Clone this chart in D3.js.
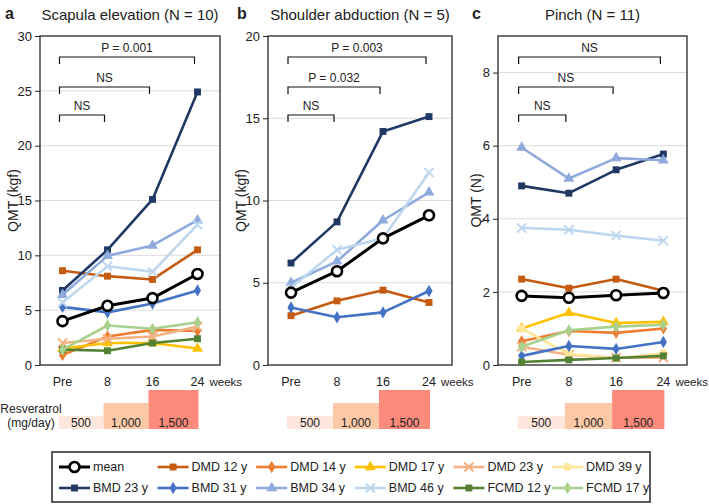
<!DOCTYPE html>
<html>
<head>
<meta charset="utf-8">
<script src="https://cdn.jsdelivr.net/npm/d3@7"></script>
<style>
  body { margin: 0; background: #fff; }
  text { font-family: "Liberation Sans", Arial, sans-serif; fill: #222; }
</style>
</head>
<body>
<svg id="chart" width="709" height="504"></svg>
<script>
// ---- data ----
const weeks = ["Pre", "8", "16", "24"];
const subjects = ["mean", "DMD 12 y", "DMD 14 y", "DMD 17 y", "DMD 23 y", "DMD 39 y",
                  "BMD 23 y", "BMD 31 y", "BMD 34 y", "BMD 46 y", "FCMD 12 y", "FCMD 17 y"];
const subjectColors = ["#000000", "#c55a11", "#ed7d31", "#ffc000", "#f4b183", "#ffe699",
                       "#203864", "#4472c4", "#8faadc", "#bdd7ee", "#548235", "#a9d18e"];
const subjectShapes = ["circle", "square", "diamond", "triangle", "x", "circle",
                       "square", "diamond", "triangle", "x", "square", "diamond"];

// values at Pre, 8, 16, 24 weeks
const scapulaValues = [
  ["DMD 12 y", [8.6, 8.1, 7.8, 10.5]],
  ["DMD 14 y", [0.9, 2.6, 3.2, 3.1]],
  ["DMD 17 y", [1.5, 2.0, 2.0, 1.5]],
  ["DMD 23 y", [2.0, 2.4, 2.6, 3.5]],
  ["BMD 23 y", [6.8, 10.5, 15.1, 24.9]],
  ["BMD 31 y", [5.3, 4.8, 5.6, 6.8]],
  ["BMD 34 y", [6.4, 9.95, 10.9, 13.2]],
  ["BMD 46 y", [5.7, 9.0, 8.5, 12.8]],
  ["FCMD 12 y", [1.4, 1.3, 2.0, 2.4]],
  ["FCMD 17 y", [1.4, 3.6, 3.3, 3.9]],
  ["mean", [4.0, 5.4, 6.1, 8.3]]
];
const shoulderValues = [
  ["DMD 12 y", [3.0, 3.9, 4.55, 3.8]],
  ["BMD 23 y", [6.2, 8.7, 14.2, 15.1]],
  ["BMD 31 y", [3.5, 2.9, 3.2, 4.5]],
  ["BMD 34 y", [5.0, 6.3, 8.8, 10.5]],
  ["BMD 46 y", [4.7, 7.0, 7.7, 11.7]],
  ["mean", [4.4, 5.7, 7.7, 9.1]]
];
const pinchValues = [
  ["DMD 12 y", [2.35, 2.1, 2.35, 2.03]],
  ["DMD 14 y", [0.65, 0.93, 0.88, 1.0]],
  ["DMD 17 y", [1.0, 1.43, 1.15, 1.18]],
  ["DMD 23 y", [0.5, 0.28, 0.2, 0.2]],
  ["DMD 39 y", [1.0, 0.3, 0.18, 0.32]],
  ["BMD 23 y", [4.9, 4.7, 5.34, 5.77]],
  ["BMD 31 y", [0.25, 0.52, 0.44, 0.63]],
  ["BMD 34 y", [5.95, 5.1, 5.66, 5.6]],
  ["BMD 46 y", [3.75, 3.7, 3.54, 3.4]],
  ["FCMD 12 y", [0.08, 0.14, 0.19, 0.25]],
  ["FCMD 17 y", [0.5, 0.95, 1.05, 1.1]],
  ["mean", [1.89, 1.84, 1.91, 1.97]]
];

const scapulaTests = ["NS", "NS", "P = 0.001"];
const shoulderTests = ["NS", "P = 0.032", "P = 0.003"];
const pinchTests = ["NS", "NS", "NS"];

const doses = [500, 1000, 1500];
const doseLabels = ["500", "1,000", "1,500"];
const doseColors = ["#fde6dc", "#fcc9a7", "#fb8a7b"];

// ---- layout ----
const svg = d3.select("#chart");
const plotTop = 36, plotBottom = 365;

const panels = [
  { letter: "a", letterX: 5, title: "Scapula elevation (N = 10)", ylabel: "QMT (kgf)", left: 40, right: 220,
    yMax: 30, ticks: [0, 5, 10, 15, 20, 25, 30], rows: scapulaValues, tests: scapulaTests, labelX: 13 },
  { letter: "b", letterX: 237, title: "Shoulder abduction (N = 5)", ylabel: "QMT (kgf)", left: 268, right: 452,
    yMax: 20, ticks: [0, 5, 10, 15, 20], rows: shoulderValues, tests: shoulderTests, labelX: 241 },
  { letter: "c", letterX: 472, title: "Pinch (N = 11)", ylabel: "QMT (N)", left: 498, right: 687,
    yMax: 9, ticks: [0, 2, 4, 6, 8], rows: pinchValues, tests: pinchTests, labelX: 476 }
];

const colorOf = d3.scaleOrdinal(subjects, subjectColors);
const shapeOf = d3.scaleOrdinal(subjects, subjectShapes);
const symbolTypes = { square: d3.symbolSquare, diamond: d3.symbolDiamond, triangle: d3.symbolTriangle, x: d3.symbolX };
const symbolSizes = { square: 48, diamond: 44, triangle: 52, x: 56 };

function drawMarker(sel, name) {
  const shape = shapeOf(name);
  const c = colorOf(name);
  if (name === "mean") {
    sel.append("circle").attr("r", 5).attr("fill", "#fff").attr("stroke", "#000").attr("stroke-width", 2.6);
  } else if (shape === "circle") {
    sel.append("circle").attr("r", 4).attr("fill", c);
  } else if (shape === "x") {
    sel.append("path").attr("d", d3.symbol(symbolTypes.x, symbolSizes.x)())
      .attr("fill", "none").attr("stroke", c).attr("stroke-width", 2);
  } else {
    sel.append("path").attr("d", d3.symbol(symbolTypes[shape], symbolSizes[shape])())
      .attr("fill", c);
  }
}

panels.forEach(p => {
  const g = svg.append("g");
  const x = d3.scalePoint().domain(weeks).range([p.left, p.right]).padding(0.5);
  const y = d3.scaleLinear().domain([0, p.yMax]).range([plotBottom, plotTop]);

  // gridlines
  g.selectAll(".grid").data(p.ticks.filter(t => t > 0 && t < p.yMax)).enter()
    .append("line")
    .attr("x1", p.left).attr("x2", p.right)
    .attr("y1", d => y(d)).attr("y2", d => y(d))
    .attr("stroke", "#dcdcdc").attr("stroke-width", 1);

  // frame
  g.append("rect").attr("x", p.left).attr("y", plotTop)
    .attr("width", p.right - p.left).attr("height", plotBottom - plotTop)
    .attr("fill", "none").attr("stroke", "#262626").attr("stroke-width", 1.3);

  // y axis
  const yAxis = g.append("g").attr("transform", `translate(${p.left},0)`)
    .call(d3.axisLeft(y).tickValues(p.ticks).tickSize(5).tickPadding(3));
  yAxis.select(".domain").remove();
  yAxis.selectAll("line").attr("stroke", "#262626");
  yAxis.selectAll("text").style("font-size", "13px").attr("fill", "#222")
    .style("font-family", "'Liberation Sans', Arial, sans-serif");

  // x labels
  g.selectAll(".xl").data(weeks).enter().append("text")
    .attr("x", d => x(d)).attr("y", 386)
    .attr("text-anchor", "middle").style("font-size", "12.5px").text(d => d);
  g.append("text").attr("x", x("24") + 12).attr("y", 386)
    .style("font-size", "11.5px").text("weeks");

  // y label
  g.append("text")
    .attr("transform", `translate(${p.labelX},${(plotTop + plotBottom) / 2}) rotate(-90)`)
    .attr("text-anchor", "middle").attr("dy", "0.35em")
    .style("font-size", "14px").text(p.ylabel);

  // titles
  g.append("text").attr("x", p.letterX).attr("y", 19)
    .style("font-size", "16px").style("font-weight", "bold").text(p.letter);
  g.append("text").attr("x", (p.left + p.right) / 2).attr("y", 20)
    .attr("text-anchor", "middle").style("font-size", "15px").text(p.title);

  // significance brackets
  const bracketY = [115, 87, 57];
  ["8", "16", "24"].forEach((w, i) => {
    const x1 = x("Pre") - 3, x2 = x(w) - 3, by = bracketY[i];
    g.append("path")
      .attr("d", `M${x1},${by + 7}V${by}H${x2}V${by + 7}`)
      .attr("fill", "none").attr("stroke", "#111").attr("stroke-width", 1.2);
    g.append("text").attr("x", (x1 + x2) / 2).attr("y", by - 5)
      .attr("text-anchor", "middle").style("font-size", "12px").text(p.tests[i]);
  });

  // lines + markers (mean last, on top)
  const line = d3.line().x((d, i) => x(weeks[i])).y(d => y(d));
  p.rows.forEach(([name, vals]) => {
    const sg = g.append("g");
    sg.append("path").attr("d", line(vals))
      .attr("fill", "none").attr("stroke", colorOf(name))
      .attr("stroke-width", name === "mean" ? 3 : 2.6).attr("stroke-linejoin", "round");
    vals.forEach((v, i) => {
      const mg = sg.append("g").attr("transform", `translate(${x(weeks[i])},${y(v)})`);
      drawMarker(mg, name);
    });
  });

  // resveratrol dose boxes
  const h = d3.scaleLinear().domain([0, 1500]).range([0, 39]);
  const boxBottom = 429;
  doses.forEach((d, i) => {
    const bx1 = x(weeks[i]) - 4;
    const bx2 = i === 2 ? x(weeks[3]) + 1 : x(weeks[i + 1]) - 4;
    g.append("rect").attr("x", bx1).attr("y", boxBottom - h(d))
      .attr("width", bx2 - bx1).attr("height", h(d)).attr("fill", doseColors[i]);
    g.append("text").attr("x", (bx1 + bx2) / 2).attr("y", boxBottom - 2)
      .attr("text-anchor", "middle").style("font-size", "12px").text(doseLabels[i]);
  });
});

svg.append("text").attr("x", 31).attr("y", 413).attr("text-anchor", "middle")
  .style("font-size", "12px").text("Resveratrol");
svg.append("text").attr("x", 31).attr("y", 427).attr("text-anchor", "middle")
  .style("font-size", "12px").text("(mg/day)");

// ---- legend ----
const legend = svg.append("g");
legend.append("rect").attr("x", 52).attr("y", 452).attr("width", 598).attr("height", 50)
  .attr("fill", "#fff").attr("stroke", "#333").attr("stroke-width", 1.6);
const colX = d3.scaleLinear().domain([0, 5]).range([59, 552]);
subjects.forEach((name, i) => {
  const lx = colX(i % 6), ly = i < 6 ? 467 : 488;
  const eg = legend.append("g");
  eg.append("line").attr("x1", lx).attr("x2", lx + 31).attr("y1", ly).attr("y2", ly)
    .attr("stroke", colorOf(name)).attr("stroke-width", name === "mean" ? 3 : 2.6);
  drawMarker(eg.append("g").attr("transform", `translate(${lx + 15.5},${ly})`), name);
  eg.append("text").attr("x", lx + 34).attr("y", ly).attr("dy", "0.35em")
    .style("font-size", "12.5px").text(name);
});
</script>
</body>
</html>
